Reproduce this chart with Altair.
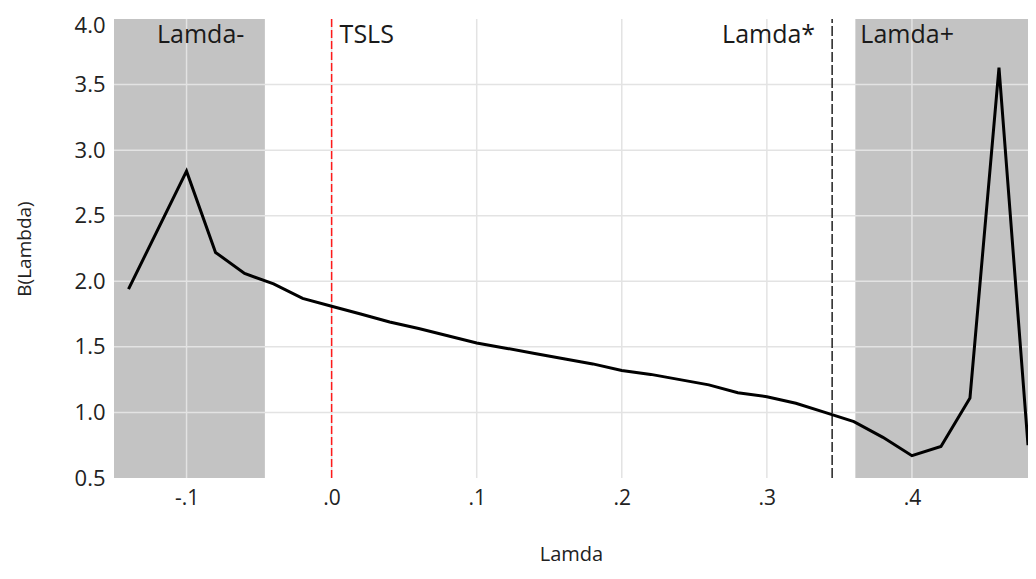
import altair as alt
import pandas as pd

# ---- data ----
lam = [-0.14, -0.10, -0.08, -0.06, -0.04, -0.02, 0.00, 0.02, 0.04, 0.06,
       0.08, 0.10, 0.12, 0.14, 0.16, 0.18, 0.20, 0.22, 0.24, 0.26,
       0.28, 0.30, 0.32, 0.34, 0.36, 0.38, 0.40, 0.42, 0.44, 0.46, 0.48]
b_vals = [1.94, 2.84, 2.22, 2.06, 1.98, 1.87, 1.81, 1.75, 1.69, 1.64,
          1.585, 1.53, 1.49, 1.45, 1.41, 1.37, 1.32, 1.29, 1.25, 1.21,
          1.15, 1.12, 1.07, 1.00, 0.93, 0.81, 0.67, 0.74, 1.11, 3.63, 0.75]

x_ticks = [-0.1, 0.0, 0.1, 0.2, 0.3, 0.4]
y_ticks = [0.5, 1.0, 1.5, 2.0, 2.5, 3.0, 3.5, 4.0]
grid_y = [1.0, 1.5, 2.0, 2.5, 3.0, 3.5]

x_domain = [-0.15, 0.48]
y_domain = [0.5, 4.0]

region_start = [-0.15, 0.361]
region_end = [-0.046, 0.48]
region_name = ["Lamda-", "Lamda+"]

tsls_x = 0.0
lamda_star_x = 0.345

W, H = 914, 459
FONT = "Open Sans"
TXT = "#222222"

x_scale = alt.Scale(domain=x_domain, nice=False, zero=False)
y_scale = alt.Scale(domain=y_domain, nice=False, zero=False)

x_axis = alt.Axis(values=x_ticks,
                  labelExpr="replace(replace(format(datum.value, '.1f'), '0.', '.'), '\u2212', '-')",
                  grid=False, domain=False, ticks=False,
                  labelFontSize=21, labelPadding=9, labelColor=TXT,
                  labelFont=FONT, titleFont=FONT, titleFontSize=20,
                  titleFontWeight="normal", titleColor=TXT, titlePadding=36)
y_axis = alt.Axis(values=y_ticks, format=".1f",
                  grid=False, domain=False, ticks=False,
                  labelFontSize=22, labelPadding=9, labelColor=TXT,
                  labelOffset={"condition": {"test": f"datum.value >= {y_domain[1]}", "value": 6},
                               "value": 0},
                  labelFont=FONT, titleFont=FONT, titleFontSize=19,
                  titleFontWeight="normal", titleColor=TXT, titlePadding=40)
XT, YT = "Lamda", "B(Lambda)"

line_df = pd.DataFrame({"lam": lam, "b": b_vals})
reg_df = pd.DataFrame({"start": region_start, "end": region_end, "name": region_name})
gx_df = pd.DataFrame({"v": x_ticks})
gy_df = pd.DataFrame({"v": grid_y})


def full_y():
    return dict(y=alt.Y(datum=y_domain[0], scale=y_scale, axis=y_axis, title=YT),
                y2=alt.Y2(datum=y_domain[1]))


rects = alt.Chart(reg_df).mark_rect(color="#c3c3c3").encode(
    x=alt.X("start:Q", scale=x_scale, axis=x_axis, title=XT),
    x2="end:Q",
    **full_y(),
)

grid_v = alt.Chart(gx_df).mark_rule(color="#e3e3e3", strokeWidth=1.5).encode(
    x=alt.X("v:Q", scale=x_scale, axis=x_axis, title=XT),
    **full_y(),
)
grid_h = alt.Chart(gy_df).mark_rule(color="#e3e3e3", strokeWidth=1.5).encode(
    y=alt.Y("v:Q", scale=y_scale, axis=y_axis, title=YT),
    x=alt.X(datum=x_domain[0], scale=x_scale, axis=x_axis, title=XT),
    x2=alt.X2(datum=x_domain[1]),
)

tsls_rule = alt.Chart(pd.DataFrame({"v": [tsls_x]})).mark_rule(
    color="#ff1a1a", strokeDash=[8, 3], strokeWidth=1.5
).encode(
    x=alt.X("v:Q", scale=x_scale, axis=x_axis, title=XT),
    **full_y(),
)
star_rule = alt.Chart(pd.DataFrame({"v": [lamda_star_x]})).mark_rule(
    color="#222222", strokeDash=[10, 3], strokeWidth=1.5
).encode(
    x=alt.X("v:Q", scale=x_scale, axis=x_axis, title=XT),
    **full_y(),
)

line = alt.Chart(line_df).mark_line(color="black", strokeWidth=3).encode(
    x=alt.X("lam:Q", scale=x_scale, axis=x_axis, title=XT),
    y=alt.Y("b:Q", scale=y_scale, axis=y_axis, title=YT),
)


def label(text, x, align, dx):
    return alt.Chart(pd.DataFrame({"t": [text], "x": [x]})).mark_text(
        font=FONT, fontSize=25, color="#1a1a1a", align=align, baseline="middle", dx=dx, dy=16
    ).encode(
        x=alt.X("x:Q", scale=x_scale, axis=x_axis, title=XT),
        y=alt.Y(datum=y_domain[1], scale=y_scale, axis=y_axis, title=YT),
        text="t:N",
    )


texts = (label(region_name[0], region_start[0], "left", 43)
         + label("TSLS", tsls_x, "left", 8)
         + label("Lamda*", lamda_star_x, "right", -17)
         + label(region_name[1], region_start[1], "left", 5))

chart = alt.layer(rects, grid_v, grid_h, tsls_rule, star_rule, line, texts).properties(
    width=W, height=H,
    autosize=alt.AutoSizeParams(type="none"),
    padding={"left": 106, "top": 11, "right": 0, "bottom": 87},
).configure_view(stroke=None)

chart.save("out.html", embed_options={"renderer": "svg", "actions": False})
